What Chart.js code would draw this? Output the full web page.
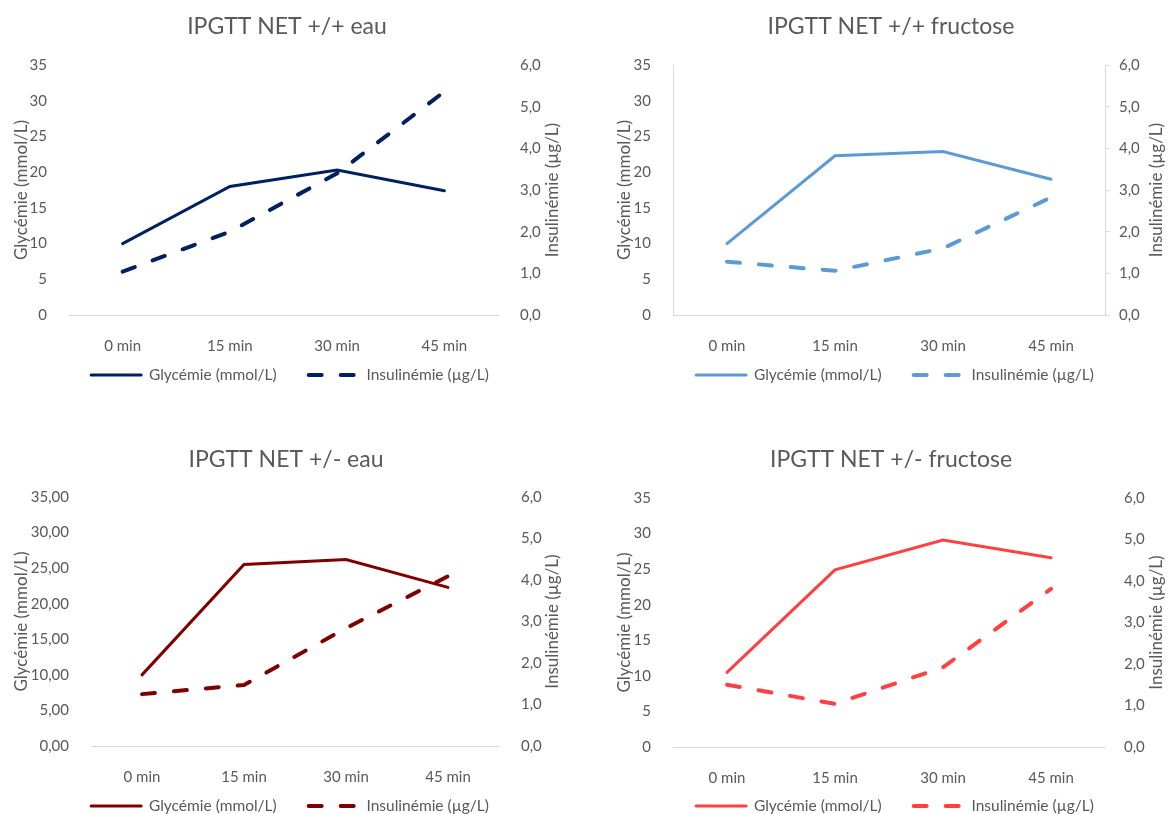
<!DOCTYPE html>
<html lang="fr">
<head>
<meta charset="utf-8">
<title>IPGTT NET</title>
<script src="https://cdn.jsdelivr.net/npm/chart.js@4.4.1/dist/chart.umd.min.js"></script>
<style>
  html, body { margin: 0; padding: 0; background: #ffffff; }
  body { position: relative; width: 1171px; height: 814px; overflow: hidden; }
  canvas { position: absolute; }
</style>
</head>
<body>
<canvas id="c1"></canvas>
<canvas id="c2"></canvas>
<canvas id="c3"></canvas>
<canvas id="c4"></canvas>
<script>
const timeLabels = ['0 min', '15 min', '30 min', '45 min'];

// Glycémie (mmol/L) - left axis
const glyEauWT = [10, 18, 20.3, 17.4];
const glyFruWT = [10, 22.3, 22.9, 19.0];
const glyEauHet = [10, 25.5, 26.2, 22.3];
const glyFruHet = [10.5, 24.9, 29.1, 26.6];

// Insulinémie (µg/L) - right axis
const insEauWT = [1.04, 2.0, 3.4, 5.36];
const insFruWT = [1.28, 1.06, 1.6, 2.82];
const insEauHet = [1.25, 1.47, 2.84, 4.09];
const insFruHet = [1.5, 1.04, 1.92, 3.81];

const glyAxis = [0, 35, 5];   // min, max, step
const insAxis = [0, 6, 1];

(() => {
  const TEXT = '#595959';
  const LINE = '#D9D9D9';
  const TICK_SIZE = 15;
  const LEGEND_SIZE = 15.5;
  const LEGEND_PAD = 32;
  const LEGEND_BOX = 20;
  const AXIS_TITLE_SIZE = 17;
  const TITLE_SIZE = 23;
  const SOLID_W = 3;
  const DASH_W = 4;
  const DASH = [13, 19];

  Chart.defaults.font.family = 'Lato, "Open Sans", sans-serif';
  Chart.defaults.color = TEXT;

  const fmt = (value, decimals) => value.toFixed(decimals).replace('.', ',');

  // moves title / legend to the spots measured on the reference
  const placeBlocks = {
    id: 'placeBlocks',
    afterLayout(chart, args, opts) {
      const t = chart.titleBlock;
      if (t && opts.title) {
        const dx = opts.title[0] - (t.left + t.right) / 2;
        const h = t.bottom - t.top;
        t.left += dx;
        t.right += dx;
        t.top = opts.title[1] - (TITLE_SIZE * 1.2) / 2;
        t.bottom = t.top + h;
      }
      const lg = chart.legend;
      if (lg && opts.legend) {
        const dx = opts.legend[0] - (lg.left + lg.right) / 2;
        lg.left += dx;
        lg.right += dx;
        lg.top = opts.legend[1] - LEGEND_PAD - LEGEND_SIZE / 2;
        // legend clips to its own box, so keep the items inside it
        lg.bottom = lg.top + LEGEND_PAD + LEGEND_SIZE + 10;
        lg.height = lg.bottom - lg.top;
      }
    },
  };

  // right axis title reads bottom-to-top like the left one
  const rightTitle = {
    id: 'rightTitle',
    afterDraw(chart, args, opts) {
      if (!opts.text) return;
      const { ctx, chartArea } = chart;
      ctx.save();
      ctx.translate(opts.x, (chartArea.top + chartArea.bottom) / 2);
      ctx.rotate(-Math.PI / 2);
      ctx.font = `${AXIS_TITLE_SIZE}px Lato, "Open Sans", sans-serif`;
      ctx.fillStyle = TEXT;
      ctx.textAlign = 'center';
      ctx.textBaseline = 'middle';
      ctx.fillText(opts.text, 0, 0);
      ctx.restore();
    },
  };

  const legendLabels = (chart) => {
    const items = Chart.defaults.plugins.legend.labels.generateLabels(chart);
    return items.map((item) => {
      const ds = chart.data.datasets[item.datasetIndex];
      return {
        ...item,
        pointStyle: 'line',
        lineWidth: ds.borderWidth,
        lineDash: ds.borderDash || [],
        lineCap: ds.borderCapStyle,
        strokeStyle: ds.borderColor,
      };
    });
  };

  const panels = [
    {
      id: 'c1', box: [0, 0, 585, 400], area: [69, 498, 65, 315],
      title: 'IPGTT NET +/+ eau', titleAt: [287, 27], legendAt: [290, 375],
      yTitleX: 22, y2TitleX: 553, y2Pad: 17, color: '#002060',
      gly: glyEauWT, ins: insEauWT, glyDecimals: 0, framed: false,
    },
    {
      id: 'c2', box: [585, 0, 586, 400], area: [673, 1105, 65, 315],
      title: 'IPGTT NET +/+ fructose', titleAt: [891, 27], legendAt: [895, 375],
      yTitleX: 625, y2TitleX: 1157, y2Pad: 9, color: '#5B9BD5',
      gly: glyFruWT, ins: insFruWT, glyDecimals: 0, framed: true,
    },
    {
      id: 'c3', box: [0, 430, 585, 384], area: [91, 499, 497, 746],
      title: 'IPGTT NET +/- eau', titleAt: [286, 460], legendAt: [290, 806],
      yTitleX: 22, y2TitleX: 553, y2Pad: 17, color: '#800000',
      gly: glyEauHet, ins: insEauHet, glyDecimals: 2, framed: false,
    },
    {
      id: 'c4', box: [585, 430, 586, 384], area: [673, 1105, 498, 747],
      title: 'IPGTT NET +/- fructose', titleAt: [891, 460], legendAt: [895, 806],
      yTitleX: 625, y2TitleX: 1157, y2Pad: 14, color: '#FF4040',
      gly: glyFruHet, ins: insFruHet, glyDecimals: 0, framed: false,
    },
  ];

  const buildPanel = (p) => {
    const canvas = document.getElementById(p.id);
    const [bx, by, bw, bh] = p.box;
    canvas.style.left = `${bx}px`;
    canvas.style.top = `${by}px`;
    canvas.width = bw;
    canvas.height = bh;

    const left = p.area[0] - bx;
    const right = p.area[1] - bx;
    const top = p.area[2] - by;
    const bottom = p.area[3] - by;
    const titleLine = TITLE_SIZE * 1.2;
    const axisTitleLine = AXIS_TITLE_SIZE * 1.2;

    new Chart(canvas, {
      type: 'line',
      data: {
        labels: timeLabels,
        datasets: [
          {
            label: 'Glycémie (mmol/L)',
            data: p.gly,
            yAxisID: 'y',
            borderColor: p.color,
            backgroundColor: p.color,
            borderWidth: SOLID_W,
            borderCapStyle: 'round',
            pointRadius: 0,
            tension: 0,
            fill: false,
          },
          {
            label: 'Insulinémie (µg/L)',
            data: p.ins,
            yAxisID: 'y2',
            borderColor: p.color,
            backgroundColor: p.color,
            borderWidth: DASH_W,
            borderDash: DASH,
            borderCapStyle: 'round',
            pointRadius: 0,
            tension: 0,
            fill: false,
          },
        ],
      },
      options: {
        responsive: false,
        animation: false,
        layout: { padding: 0 },
        plugins: {
          title: {
            display: true,
            text: p.title,
            color: TEXT,
            font: { size: TITLE_SIZE, weight: 'normal' },
            padding: { top: 0, bottom: top - titleLine },
          },
          legend: {
            position: 'bottom',
            maxHeight: LEGEND_BOX,
            labels: {
              usePointStyle: true,
              pointStyle: 'line',
              pointStyleWidth: 50,
              padding: LEGEND_PAD,
              color: TEXT,
              font: { size: LEGEND_SIZE },
              generateLabels: legendLabels,
            },
          },
          tooltip: { enabled: false },
          placeBlocks: { title: [p.titleAt[0] - bx, p.titleAt[1] - by], legend: [p.legendAt[0] - bx, p.legendAt[1] - by] },
          rightTitle: { text: 'Insulinémie (µg/L)', x: p.y2TitleX - bx },
        },
        scales: {
          x: {
            offset: true,
            grid: { display: false },
            border: { display: true, color: LINE, width: 1 },
            ticks: { padding: 14, font: { size: TICK_SIZE }, color: TEXT, maxRotation: 0 },
            afterFit: (s) => { s.height = bh - LEGEND_BOX - bottom; },
          },
          y: {
            position: 'left',
            min: glyAxis[0],
            max: glyAxis[1],
            grid: { display: false },
            border: { display: p.framed, color: LINE, width: 1 },
            ticks: {
              stepSize: glyAxis[2],
              padding: 14,
              font: { size: TICK_SIZE },
              color: TEXT,
              callback: (value) => fmt(value, p.glyDecimals),
            },
            title: {
              display: true,
              text: 'Glycémie (mmol/L)',
              color: TEXT,
              font: { size: AXIS_TITLE_SIZE },
              padding: { top: p.yTitleX - bx - axisTitleLine / 2, bottom: 0 },
            },
            afterFit: (s) => { s.width = left; },
          },
          y2: {
            position: 'right',
            min: insAxis[0],
            max: insAxis[1],
            grid: {
              display: p.framed,
              drawOnChartArea: false,
              drawTicks: true,
              tickLength: 5,
              color: LINE,
            },
            border: { display: p.framed, color: LINE, width: 1 },
            ticks: {
              stepSize: insAxis[2],
              padding: p.y2Pad,
              font: { size: TICK_SIZE },
              color: TEXT,
              callback: (value) => fmt(value, 1),
            },
            afterFit: (s) => { s.width = bw - right; },
          },
        },
      },
      plugins: [placeBlocks, rightTitle],
    });
  };

  panels.forEach(buildPanel);
})();
</script>
</body>
</html>
